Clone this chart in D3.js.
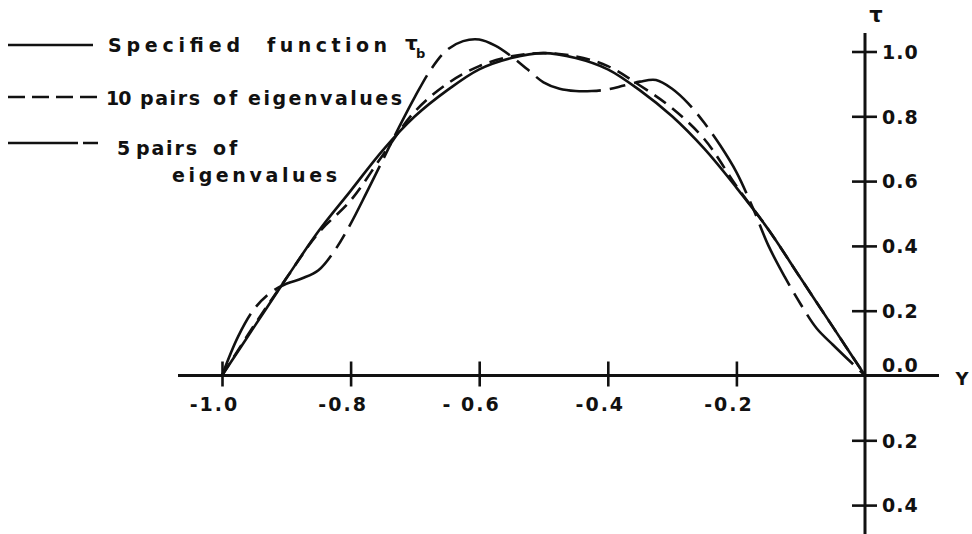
<!DOCTYPE html>
<html>
<head>
<meta charset="utf-8">
<script src="https://cdn.jsdelivr.net/npm/d3@7"></script>
<style>
  html, body { margin: 0; padding: 0; background: #fff; }
  svg { display: block; }
  text { font-family: "DejaVu Sans", sans-serif; font-weight: bold; fill: #111; }
</style>
</head>
<body>
<svg id="chart" width="972" height="534"></svg>
<script>
// ---------------- data ----------------
const gridCoarse = [-1.00,-0.95,-0.90,-0.85,-0.80,-0.75,-0.70,-0.65,-0.60,-0.55,-0.50,
                    -0.45,-0.40,-0.35,-0.30,-0.25,-0.20,-0.15,-0.10,-0.05,0.00];
const specifiedTau = [0,0.15,0.30,0.445,0.57,0.695,0.80,0.88,0.945,0.98,0.995,
                      0.98,0.945,0.88,0.80,0.70,0.58,0.45,0.30,0.15,0];
const tenPairsTau  = [0,0.155,0.30,0.44,0.54,0.68,0.815,0.90,0.955,0.985,0.995,
                      0.985,0.955,0.895,0.825,0.73,0.585,0.45,0.30,0.15,0];
const gridFine = [-1.000,-0.975,-0.950,-0.925,-0.900,-0.875,-0.850,-0.825,-0.800,-0.775,
                  -0.750,-0.725,-0.700,-0.675,-0.650,-0.625,-0.600,-0.575,-0.550,-0.525,
                  -0.500,-0.475,-0.450,-0.425,-0.400,-0.375,-0.350,-0.325,-0.300,-0.275,
                  -0.250,-0.225,-0.200,-0.175,-0.150,-0.125,-0.100,-0.075,-0.050,-0.025,0.000];
const fivePairsTau = [0,0.12,0.205,0.255,0.283,0.300,0.325,0.385,0.468,0.565,
                      0.665,0.765,0.860,0.945,1.005,1.032,1.037,1.018,0.985,0.945,
                      0.905,0.885,0.878,0.878,0.883,0.895,0.907,0.912,0.885,0.840,
                      0.780,0.710,0.628,0.520,0.400,0.305,0.220,0.145,0.095,0.047,0];
const xTickValues = [-1.0,-0.8,-0.6,-0.4,-0.2];
const xTickLabels = ["-1.0","-0.8","- 0.6","-0.4","-0.2"];
const yTickValues = [1.0,0.8,0.6,0.4,0.2,0.0,-0.2,-0.4];
const yTickLabels = ["1.0","0.8","0.6","0.4","0.2","0.0","0.2","0.4"];
const legendItems = ["Specified function", "10 pairs of eigenvalues", "5 pairs of eigenvalues"];

// ---------------- drawing ----------------
const svg = d3.select("#chart");
svg.append("rect").attr("width",972).attr("height",534).attr("fill","#fff");

const x = d3.scaleLinear().domain([-1, 0]).range([222, 865]);
const y = d3.scaleLinear().domain([0, 1]).range([375.5, 51.5]);

// main axes lines
svg.append("line").attr("x1",178).attr("x2",939).attr("y1",y(0)).attr("y2",y(0))
  .attr("stroke","#111").attr("stroke-width",3);
svg.append("line").attr("x1",x(0)).attr("x2",x(0)).attr("y1",33).attr("y2",534)
  .attr("stroke","#111").attr("stroke-width",3);

// x axis ticks
const gx = svg.append("g").attr("transform",`translate(0,${y(0)})`)
  .call(d3.axisBottom(x).tickValues(xTickValues).tickFormat((d,i)=>xTickLabels[i])
        .tickSizeInner(11).tickSizeOuter(0));
gx.select(".domain").remove();
gx.selectAll(".tick line").attr("y1",-14).attr("stroke","#111").attr("stroke-width",2.6);
gx.selectAll(".tick text").attr("y",35).attr("dy",0).attr("dx",-8)
  .style("font-size","19px").style("letter-spacing","2px")
  .style("font-family","'DejaVu Sans', sans-serif").style("font-weight","bold").attr("fill","#111");

// y axis ticks
const gy = svg.append("g").attr("transform",`translate(${x(0)},0)`)
  .call(d3.axisRight(y).tickValues(yTickValues).tickFormat((d,i)=>yTickLabels[i])
        .tickSizeInner(12).tickSizeOuter(0));
gy.select(".domain").remove();
gy.selectAll(".tick line").attr("x1",-13).attr("stroke","#111").attr("stroke-width",2.6)
  .filter(d => d === 0).remove();
gy.selectAll(".tick text").attr("x",17).attr("dy","0.36em")
  .style("font-size","19px").style("letter-spacing","1px")
  .style("font-family","'DejaVu Sans', sans-serif").style("font-weight","bold").attr("fill","#111");
gy.selectAll(".tick").filter(d => d === 0).select("text").attr("dy",-4);

// axis titles
svg.append("text").attr("x",876).attr("y",22).attr("text-anchor","middle")
  .style("font-size","21px").text("τ");
svg.append("text").attr("x",962).attr("y",385).attr("text-anchor","middle")
  .style("font-size","18px").text("Y");

// curves
const line = (grid, vals) => d3.line()
  .x((d,i)=>x(grid[i])).y(d=>y(d))
  .curve(d3.curveCatmullRom.alpha(0.5))(vals);

svg.append("path").attr("d", line(gridCoarse, specifiedTau))
  .attr("fill","none").attr("stroke","#111").attr("stroke-width",2.6);
svg.append("path").attr("d", line(gridCoarse, tenPairsTau))
  .attr("fill","none").attr("stroke","#111").attr("stroke-width",2.6)
  .attr("stroke-dasharray","14,8");
svg.append("path").attr("d", line(gridFine, fivePairsTau))
  .attr("fill","none").attr("stroke","#111").attr("stroke-width",2.6)
  .attr("stroke-dasharray","68,9,16,9");

// legend
const lg = svg.append("g");
lg.append("line").attr("x1",8).attr("x2",93).attr("y1",45).attr("y2",45)
  .attr("stroke","#111").attr("stroke-width",2.6);
lg.append("line").attr("x1",8).attr("x2",97).attr("y1",97).attr("y2",97)
  .attr("stroke","#111").attr("stroke-width",2.6).attr("stroke-dasharray","17,7");
lg.append("line").attr("x1",8).attr("x2",98).attr("y1",143).attr("y2",143)
  .attr("stroke","#111").attr("stroke-width",2.6).attr("stroke-dasharray","70,5,15,50");

const words = [
  {t:"Specified", x:108, y:52, w:132, ls:0},
  {t:"function",  x:267, y:52, w:120, ls:0},
  {t:"10",        x:106, y:105, w:0, ls:-1},
  {t:"pairs",     x:140, y:105, w:60, ls:0},
  {t:"of",        x:213, y:105, w:0, ls:3},
  {t:"eigenvalues", x:248, y:105, w:154, ls:0},
  {t:"5",         x:117, y:155, w:0, ls:0},
  {t:"pairs",     x:136, y:155, w:61, ls:0},
  {t:"of",        x:213, y:155, w:0, ls:3},
  {t:"eigenvalues", x:172, y:182, w:165, ls:0}
];
lg.selectAll("text.w").data(words).join("text").attr("class","w")
  .attr("x",d=>d.x).attr("y",d=>d.y)
  .attr("textLength",d=>d.w > 0 ? d.w : null)
  .attr("lengthAdjust",d=>d.w > 0 ? "spacing" : null)
  .style("letter-spacing",d=>d.w > 0 ? null : d.ls + "px")
  .style("font-size","19px").text(d=>d.t);
lg.append("text").attr("x",405).attr("y",50).style("font-size","20px").text("τ");
lg.append("text").attr("x",416).attr("y",58).style("font-size","13px").text("b");
</script>
</body>
</html>
